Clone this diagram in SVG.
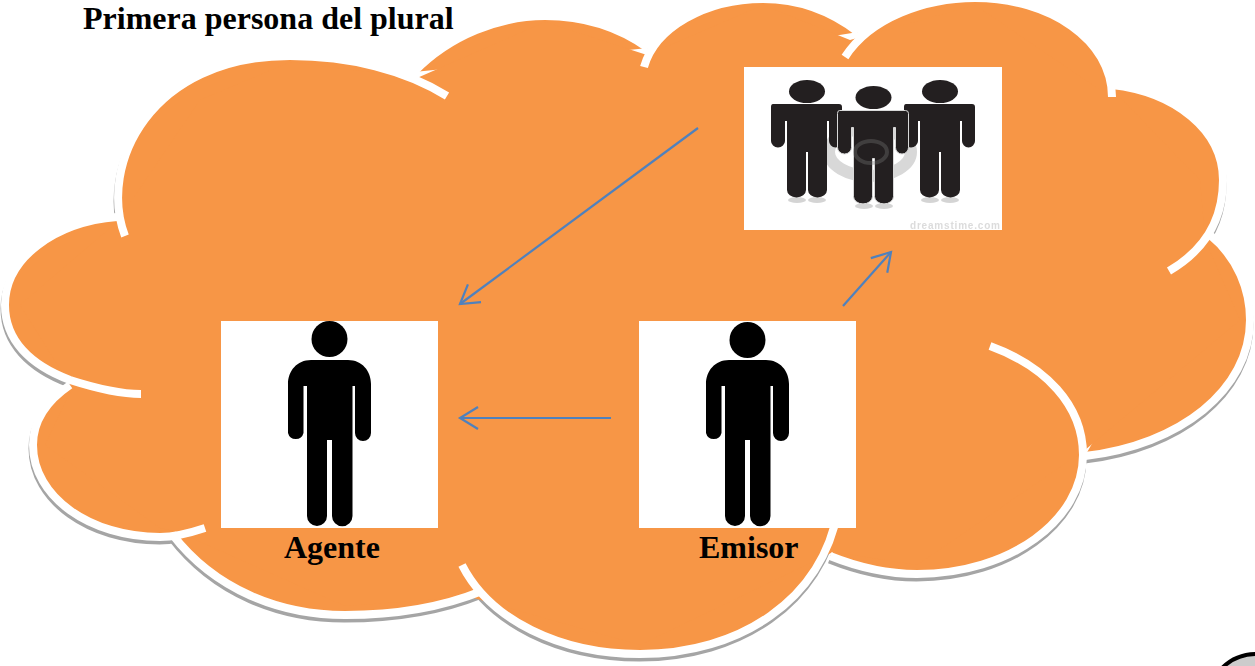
<svg xmlns="http://www.w3.org/2000/svg" xmlns:xlink="http://www.w3.org/1999/xlink" width="1255" height="666" viewBox="0 0 1255 666">
<style>
text{font-family:"Liberation Serif","Times New Roman",serif;font-weight:bold;fill:#000}
.lbl{font-size:32px}
.conn{fill:none;stroke:#4f81bd;stroke-width:2.2;marker-end:url(#open)}
.lobe-s{fill:none;stroke:#a5a5a5;stroke-width:8}
.lobe-f{fill:#f79646;stroke:none}
.lobe-w{fill:none;stroke:#fff;stroke-width:8}
.ph{fill:#fff}
.g-p{fill:#231f20}
.refl{fill:#c9c9c9;opacity:.8}
</style>
<defs>
<filter id="soft" x="-5%" y="-20%" width="110%" height="140%"><feGaussianBlur stdDeviation="0.6"/></filter>
<clipPath id="lower"><rect x="0" y="150" width="1255" height="516"/></clipPath>
<marker id="open" markerUnits="userSpaceOnUse" markerWidth="30" markerHeight="30" refX="25" refY="15" orient="auto">
<path d="M7,4 L25,15 L7,26" fill="none" stroke="#4f81bd" stroke-width="2.2"/>
</marker>
<path id="l1" d="M125,236 C98,165 150,56 290,56 C350,56 405,70 447,96"/>
<path id="l2" d="M414,72 C450,35 500,16 545,16 C585,16 620,28 648,48"/>
<path id="l3" d="M644,67 C655,28 705,-1 763,-1 C800,-1 832,12 858,32"/>
<path id="l4" d="M845,57 C870,18 925,-2 975,-2 C1050,-2 1112,40 1112,97"/>
<path id="l5" d="M1112,85 C1175,92 1223,130 1223,180 C1223,220 1205,250 1169,271"/>
<path id="l6" d="M1210,235 C1238,258 1250,290 1250,320 C1250,390 1180,445 1085,456"/>
<path id="l7" d="M990,346 C1045,366 1083,405 1083,455 C1083,520 1010,574 917,574 C885,574 855,566 830,556"/>
<path id="l8" d="M462,565 C490,620 560,654 640,654 C740,654 822,600 838,510"/>
<path id="l9" d="M172,534 C215,590 280,615 345,615 C395,615 440,608 482,591"/>
<path id="l10" d="M205,528 C190,533 175,537 160,537 C90,537 33,497 33,445 C33,420 48,400 70,385"/>
<path id="l11" d="M141,394 C120,394 95,388 70,380 C30,365 5,340 5,305 C5,258 55,222 117,217"/>
<g id="lobes">
<use xlink:href="#l1"/><use xlink:href="#l2"/><use xlink:href="#l3"/><use xlink:href="#l4"/><use xlink:href="#l5"/><use xlink:href="#l6"/><use xlink:href="#l7"/><use xlink:href="#l8"/><use xlink:href="#l9"/><use xlink:href="#l10"/><use xlink:href="#l11"/>
</g>
<path id="person" d="M311,360 H348 C362,360 371,371 371,384 V433 A8,8 0 0 1 355,433 V386 H352.5 V516 A10,10 0 0 1 332,516 V440 H327 V516 A10,10 0 0 1 307,516 V386 H303.5 V433 A8,8 0 0 1 288,433 V384 C288,371 297,360 311,360 Z"/>
<path id="gperson" d="M773,104 H839 Q842,104 842,107 V141 A6.5,6.5 0 0 1 829,141 V121 H827 V190 A9,7 0 0 1 808,190 V152 H806 V190 A9,7 0 0 1 787,190 V121 H785 V141 A7,6.5 0 0 1 771,141 V107 Q771,104 773,104 Z"/>
</defs>
<g id="cloud">
<g clip-path="url(#lower)"><use xlink:href="#lobes" class="lobe-s" transform="translate(-0.5,3.5)"/></g>
<use xlink:href="#lobes" class="lobe-f"/>
<polygon class="lobe-f" points="117,222 200,100 290,62 417,78 545,22 647,55 763,5 850,40 975,5 1100,90 1115,92 1200,180 1205,240 1240,320 1085,450 917,565 833,552 640,645 470,597 345,606 178,532 160,528 45,445 72,388 20,305"/>
<use xlink:href="#lobes" class="lobe-w"/>
</g>
<g id="title"><text class="lbl" x="83" y="29">Primera persona del plural</text></g>
<g id="group">
<rect class="ph" x="744" y="67" width="258" height="163"/>
<ellipse cx="870" cy="152" rx="41" ry="24" fill="none" stroke="#d8d8d8" stroke-width="12"/>
<ellipse class="refl" cx="797" cy="200" rx="9" ry="3"/><ellipse class="refl" cx="817" cy="200" rx="9" ry="3"/>
<ellipse class="refl" cx="930" cy="200" rx="9" ry="3"/><ellipse class="refl" cx="950" cy="200" rx="9" ry="3"/>
<ellipse class="refl" cx="864" cy="206" rx="9" ry="3"/><ellipse class="refl" cx="884" cy="206" rx="9" ry="3"/>
<ellipse class="g-p" cx="807" cy="91.5" rx="18" ry="11.5"/>
<use xlink:href="#gperson" class="g-p"/>
<ellipse class="g-p" cx="940" cy="91.5" rx="18" ry="11.5"/>
<use xlink:href="#gperson" class="g-p" transform="translate(133,0)"/>
<ellipse class="g-p" cx="873.5" cy="97.5" rx="18" ry="11.5"/>
<use xlink:href="#gperson" class="g-p" transform="translate(66.5,6.5)" stroke="#d8d8d8" stroke-width="1"/>
<ellipse cx="871" cy="152" rx="16" ry="11" fill="none" stroke="#777" stroke-width="4" opacity=".35"/>
<text x="910" y="229" font-size="10" style="fill:#dcdcdc;font-family:'Liberation Sans',sans-serif" textLength="90" filter="url(#soft)">dreamstime.com</text>
</g>
<g id="agente">
<rect class="ph" x="221" y="321" width="217" height="207"/>
<circle cx="329.5" cy="339" r="18"/>
<use xlink:href="#person"/>
<text class="lbl" x="284" y="558">Agente</text>
</g>
<g id="emisor">
<rect class="ph" x="639" y="321" width="217" height="207"/>
<circle cx="747.5" cy="340" r="18"/>
<use xlink:href="#person" transform="translate(418,0)"/>
<text class="lbl" x="699" y="558">Emisor</text>
</g>
<g id="connectors">
<line class="conn" x1="698" y1="128" x2="460" y2="304"/>
<line class="conn" x1="611" y1="418" x2="460" y2="418"/>
<line class="conn" x1="843" y1="306" x2="891" y2="252"/>
</g>
<g id="corner"><circle cx="1256" cy="702" r="48" fill="#cccccc" stroke="#000" stroke-width="4"/></g>
</svg>
